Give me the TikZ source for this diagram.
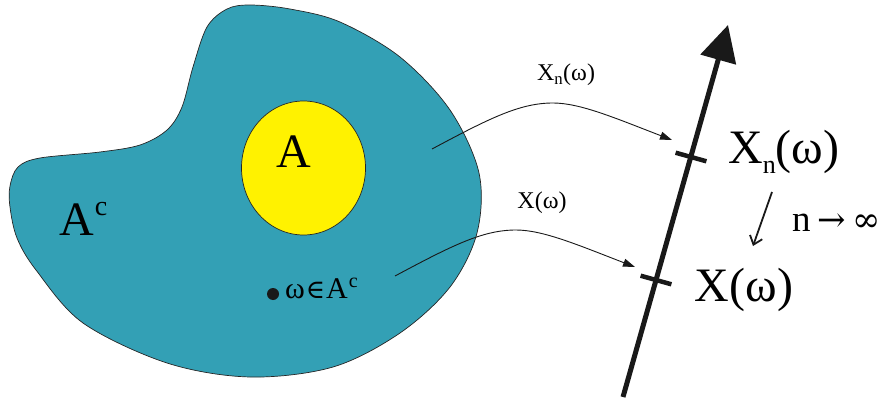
\documentclass[tikz,border=0pt]{standalone}
\usepackage{fontspec}
\setmainfont{Liberation Serif}
\newfontfamily\symfont{DejaVu Serif}
\usetikzlibrary{arrows.meta,calc,shapes.geometric}
\definecolor{blobcol}{RGB}{51,160,181}
\definecolor{setA}{RGB}{255,242,0}
\newcommand\rsup[3]{\raisebox{#2}{\fontsize{#1}{#1}\selectfont #3}}
\tikzset{
  outline/.style={draw=black!85,line width=0.7pt},
  mapcurve/.style={draw=black!90,line width=0.9pt,-{Triangle[length=12pt,width=8pt]}},
  axisline/.style={draw=black!90,line width=5pt,-{Triangle[length=36pt,width=36pt]}},
  tickmark/.style={draw=black!90,line width=4.5pt},
  limarrow/.style={draw=black!90,line width=1.8pt,-{Straight Barb[length=8pt,width=13pt]}},
  biglab/.style={font=\fontsize{48}{50}\selectfont,inner sep=0pt},
  smalllab/.style={font=\fontsize{24}{26}\selectfont,inner sep=0pt},
}
\begin{document}
\begin{tikzpicture}[x=1pt,y=-1pt]
\useasboundingbox (0,0) rectangle (883,401);
% sample space
\path[outline,fill=blobcol] plot[smooth cycle,tension=0.55] coordinates {
 (10,186) (18,167) (40,158) (100,152) (140,145) (167,130) (182,107) (193,67)
 (207,27) (227,9) (250,5) (290,9) (340,22) (400,57) (450,110) (479,173) (477,233)
 (450,287) (400,333) (333,367) (250,377) (167,363) (83,323) (36,270) (17,238) (10,207)};
\node[outline,fill=setA,ellipse,minimum width=124pt,minimum height=134pt,inner sep=0pt] (A) at (303.5,168) {};
\node[biglab] (Alab) at (294,152) {A};
\node[biglab,anchor=base west] (Ac) at (59,235) {A\hspace{1pt}\rsup{28pt}{20pt}{c}};
\fill[black!90] (273,294) circle (6pt) coordinate (w);
\node[font=\fontsize{30}{32}\selectfont,inner sep=0pt,anchor=base west] (wlab) at (285,298) {ω\hspace{1pt}{\symfont\fontsize{26}{28}\selectfont ∈}\hspace{1pt}A\hspace{1pt}\rsup{20pt}{11pt}{c}};
% axis
\coordinate (axB) at (623,397);
\coordinate (axT) at (728,25);
\draw[axisline] (axB) -- (axT);
\coordinate (t1) at (691,157);
\coordinate (t2) at (656,280);
\draw[tickmark] ($(t1)+(-15.4,-4.3)$) -- ($(t1)+(15.4,4.3)$);
\draw[tickmark] ($(t2)+(-15.4,-4.3)$) -- ($(t2)+(15.4,4.3)$);
% mapping curves
\coordinate (s1) at (432,149);
\coordinate (p1) at (553,103);
\coordinate (e1) at (672,140);
\coordinate (s2) at (395,276);
\coordinate (p2) at (516,230);
\coordinate (e2) at (635,267);
\draw[mapcurve] (s1) .. controls (490,118) and (520,103) .. (p1) .. controls (580,103) and (615,118) .. (e1);
\draw[mapcurve] (s2) .. controls (453,245) and (483,230) .. (p2) .. controls (543,230) and (578,245) .. (e2);
\node[smalllab] (lXn) at (566,75) {X\textsubscript{n}(ω)};
\node[smalllab] (lX) at (542,203) {X(ω)};
% values
\node[biglab,anchor=base west] (Xn) at (728,163) {X\rsup{26pt}{-10pt}{n}(ω)};
\node[biglab] (X) at (744,290) {X(ω)};
\coordinate (la) at (772,192);
\coordinate (lb) at (753,246);
\draw[limarrow] (la) -- (lb);
\node[font=\fontsize{37}{38}\selectfont,inner sep=0pt,anchor=base west] (ninf) at (792,231) {n\hspace{7pt}{\symfont\fontsize{34}{36}\selectfont →\hspace{6pt}∞}};
\end{tikzpicture}
\end{document}
